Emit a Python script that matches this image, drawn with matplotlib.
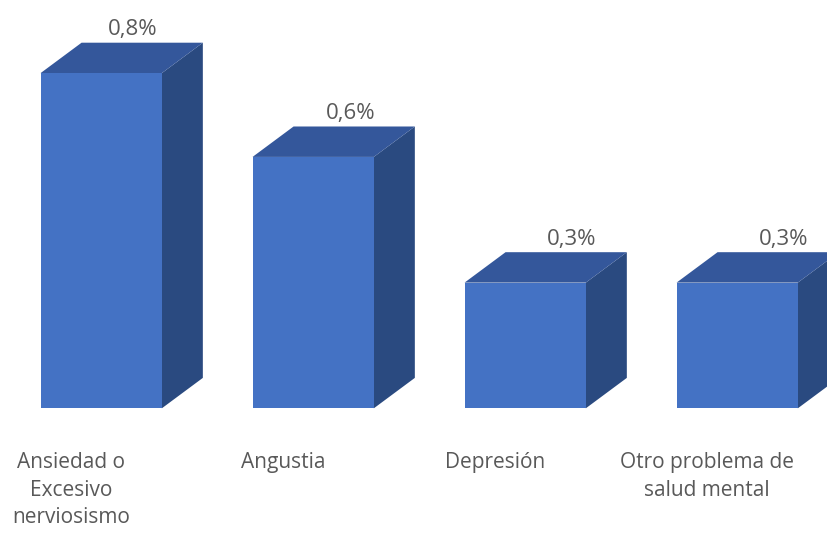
import matplotlib.pyplot as plt
from matplotlib.patches import Polygon

# data (values in %)
categories = ["Ansiedad o\nExcesivo\nnerviosismo", "Angustia", "Depresión",
              "Otro problema de\nsalud mental"]
values = [0.8, 0.6, 0.3, 0.3]
value_labels = ["0,8%", "0,6%", "0,3%", "0,3%"]

front = "#4472c4"
top_col = "#34579b"
side_col = "#2a4a80"
text_col = "#595959"

width = 0.572      # bar width in x units
dx = 0.1934        # depth offset (x units)
dy = 0.0726        # depth offset (value units)

plt.rcParams['font.family'] = ['Open Sans', 'DejaVu Sans']

fig = plt.figure(figsize=(8.27, 5.33), dpi=100)
ax = fig.add_axes([0, 0, 1, 1])
ax.set_xlim(-0.4774, 3.4236)
ax.set_ylim(-0.2976, 0.9745)
ax.axis("off")

xs = list(range(len(values)))
ax.bar(xs, values, width=width, color=front, zorder=3)

for x, v, lab, cat in zip(xs, values, value_labels, categories):
    l, r = x - width / 2, x + width / 2
    # right side face
    ax.add_patch(Polygon([(r, 0), (r + dx, dy), (r + dx, v + dy), (r, v)],
                         closed=True, facecolor=side_col, edgecolor="none", zorder=2))
    # top face
    ax.add_patch(Polygon([(l, v), (l + dx, v + dy), (r + dx, v + dy), (r, v)],
                         closed=True, facecolor=top_col, edgecolor="none", zorder=2))
    # label shifts a bit less to the right on taller bars (perspective)
    shift = (46.5 - 30 * (v - 0.3)) / 212
    ax.text(x + shift, v + dy + 0.018, lab, ha="center", va="baseline",
            fontsize=16, color=text_col, zorder=4)
    ax.text(x - 0.1415, -0.104, cat, ha="center", va="top",
            fontsize=15, color=text_col, linespacing=1.42)

fig.savefig("out.png", dpi=100)
